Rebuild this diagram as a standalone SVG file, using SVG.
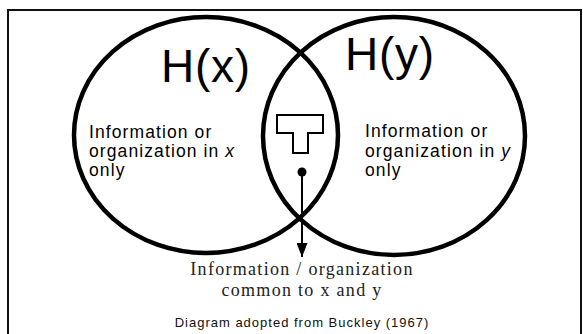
<svg xmlns="http://www.w3.org/2000/svg" width="583" height="334" viewBox="0 0 583 334">
<style>
.frame{stroke:#111;stroke-width:2;fill:none}
.set{fill:none;stroke:#000;stroke-width:4.5}
.big{font-family:"Liberation Sans",Arial,sans-serif;font-size:46px;fill:#000;letter-spacing:0.7px}
.body{font-family:"Liberation Sans",Arial,sans-serif;font-size:17.5px;fill:#000;letter-spacing:1.1px}
.serif{font-family:"Liberation Serif","Times New Roman",serif;font-size:18px;fill:#222;letter-spacing:1.3px;text-anchor:middle}
.cap{font-family:"Liberation Sans",Arial,sans-serif;font-size:13px;fill:#111;letter-spacing:1px;text-anchor:middle}
</style>
<defs>
<marker id="arrow" viewBox="0 0 14 11" refX="14" refY="5.5" markerWidth="14" markerHeight="11" markerUnits="userSpaceOnUse" orient="auto">
<path d="M0,0 L14,5.5 L0,11 Z" fill="#000"/>
</marker>
</defs>
<rect width="583" height="334" fill="#fff"/>
<g id="frame">
<path class="frame" d="M8,334 V10 H581 V334"/>
</g>
<g id="set-x">
<ellipse class="set" cx="206" cy="135" rx="132" ry="118"/>
<text class="big" x="161" y="82">H(x)</text>
<text class="body" x="89" y="138">Information or</text>
<text class="body" x="89" y="157">organization in <tspan font-style="italic">x</tspan></text>
<text class="body" x="89" y="176">only</text>
</g>
<g id="set-y">
<ellipse class="set" cx="394" cy="136" rx="131" ry="119"/>
<text class="big" x="345" y="70">H(y)</text>
<text class="body" x="365" y="137">Information or</text>
<text class="body" x="365" y="157">organization in <tspan font-style="italic">y</tspan></text>
<text class="body" x="365" y="176">only</text>
</g>
<g id="transmission">
<path d="M277,115 H323 V133 H308 V153 H293 V133 H277 Z" fill="#fff" stroke="#000" stroke-width="2"/>
</g>
<g id="connectors">
<circle cx="302" cy="172" r="4.5" fill="#000"/>
<line x1="302" y1="172" x2="302" y2="257" stroke="#000" stroke-width="2" marker-end="url(#arrow)"/>
</g>
<g id="common-label">
<text class="serif" x="302" y="275">Information / organization</text>
<text class="serif" x="302" y="296">common to x and y</text>
</g>
<g id="caption">
<text class="cap" x="302" y="327">Diagram adopted from Buckley (1967)</text>
</g>
</svg>
